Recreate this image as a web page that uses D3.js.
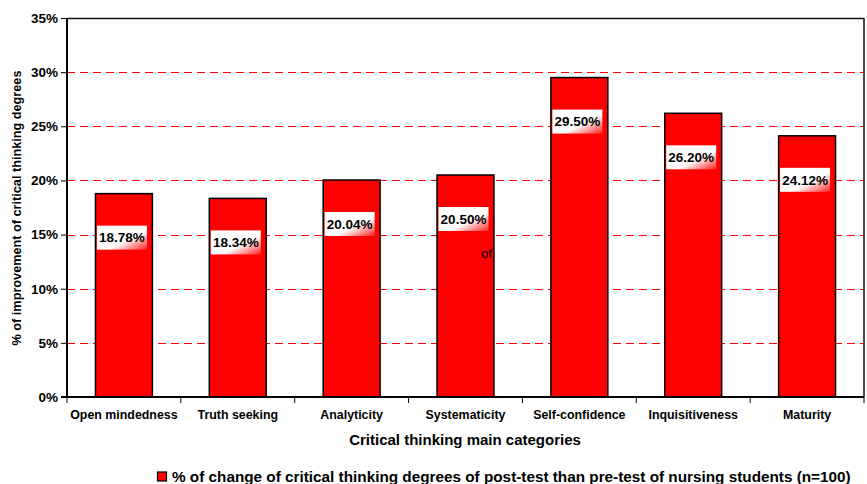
<!DOCTYPE html>
<html><head><meta charset="utf-8">
<script src="https://cdn.jsdelivr.net/npm/d3@7"></script>
<style>body{margin:0;background:#fff}svg{display:block;font-family:"Liberation Sans",Arial,sans-serif}</style>
</head><body><svg id="c" width="867" height="484"></svg>
<script>
const categories = ["Open mindedness","Truth seeking","Analyticity","Systematicity","Self-confidence","Inquisitiveness","Maturity"];
const values = [18.78,18.34,20.04,20.50,29.50,26.20,24.12];
const yTicks = [0,5,10,15,20,25,30,35];
const seriesName = "% of change of critical thinking degrees of post-test than pre-test of nursing students (n=100)";
const yTitle = "% of improvement of critical thinking degrees";
const xTitle = "Critical thinking main categories";

const svg = d3.select("#c");
const L=67,R=864,T=18,B=397;
const x = d3.scaleBand().domain(categories).range([L,R]).paddingInner(0.5).paddingOuter(0.25);
const y = d3.scaleLinear().domain([0,35]).range([B,T]);

const defs = svg.append("defs");
const g = defs.append("linearGradient").attr("id","lg").attr("x1",0).attr("y1",0).attr("x2",1).attr("y2",1);
g.append("stop").attr("offset","0").attr("stop-color","#fff");
g.append("stop").attr("offset","0.6").attr("stop-color","#fff");
g.append("stop").attr("offset","1").attr("stop-color","#ff2020");

// gridlines
svg.append("g").selectAll("line").data(yTicks.filter(d=>d>0&&d<35)).join("line")
  .attr("x1",L).attr("x2",R).attr("y1",d=>Math.round(y(d))+0.5).attr("y2",d=>Math.round(y(d))+0.5)
  .attr("stroke","#ff0000").attr("stroke-width",1).attr("stroke-dasharray","8,5");

// plot border top/right
svg.append("path").attr("d",`M${L},${T+0.5}H${R}V${B}`).attr("fill","none").attr("stroke","#111").attr("stroke-width",1.5);

// bars
svg.append("g").selectAll("rect").data(values).join("rect")
  .attr("x",(d,i)=>x(categories[i])).attr("width",x.bandwidth())
  .attr("y",d=>y(d)).attr("height",d=>B-y(d))
  .attr("fill","#ff0000").attr("stroke","#000").attr("stroke-width",1.5);

// y axis
const ya = svg.append("g").attr("transform",`translate(${L},0)`)
  .call(d3.axisLeft(y).tickValues(yTicks).tickFormat(d=>d+"%").tickSize(6).tickPadding(3));
ya.select(".domain").attr("stroke","#000").attr("stroke-width",2).attr("d",`M0,${T}V${B}`);
ya.selectAll(".tick line").attr("stroke","#000");
ya.selectAll("text").attr("font-size",13.5).attr("font-weight","bold").attr("fill","#000").attr("font-family","Liberation Sans,Arial,sans-serif");

// x axis
const bands = d3.scaleLinear().domain([0,categories.length]).range([L,R]);
const xa = svg.append("g").attr("transform",`translate(0,${B})`);
xa.append("line").attr("x1",L-6).attr("x2",R).attr("y1",0).attr("y2",0).attr("stroke","#000").attr("stroke-width",2);
xa.selectAll("line.t").data(d3.range(categories.length+1)).join("line").attr("class","t")
  .attr("x1",d=>bands(d)).attr("x2",d=>bands(d)).attr("y1",0).attr("y2",6).attr("stroke","#000");
xa.selectAll("text").data(categories).join("text")
  .attr("x",d=>x(d)+x.bandwidth()/2).attr("y",22).attr("text-anchor","middle")
  .attr("font-size",12.4).attr("font-weight","bold").text(d=>d);

// data labels
const lab = svg.append("g").selectAll("g").data(values).join("g")
  .attr("transform",(d,i)=>`translate(${x(categories[i])+x.bandwidth()/2-2},${y(d)+44})`);
lab.append("rect").attr("x",-25).attr("y",-12).attr("width",50).attr("height",24).attr("fill","url(#lg)");
lab.append("text").attr("text-anchor","middle").attr("dy","0.35em").attr("font-size",13.5).attr("font-weight","bold")
  .text(d=>d.toFixed(2)+"%");

// stray text
svg.append("text").attr("x",x("Systematicity")+x.bandwidth()-13).attr("y",258).attr("font-size",13).attr("fill","#000").text("of");

// titles
svg.append("text").attr("transform",`translate(21,208) rotate(-90)`).attr("text-anchor","middle")
  .attr("font-size",12.7).attr("font-weight","bold").text(yTitle);
svg.append("text").attr("x",465).attr("y",445).attr("text-anchor","middle")
  .attr("font-size",15).attr("font-weight","bold").text(xTitle);

// legend
svg.append("rect").attr("x",157.5).attr("y",472).attr("width",9).attr("height",9).attr("fill","#ff0000").attr("stroke","#000").attr("stroke-width",1.2);
svg.append("text").attr("x",172).attr("y",482).attr("font-size",15.3).attr("font-weight","bold").text(seriesName);
</script></body></html>
